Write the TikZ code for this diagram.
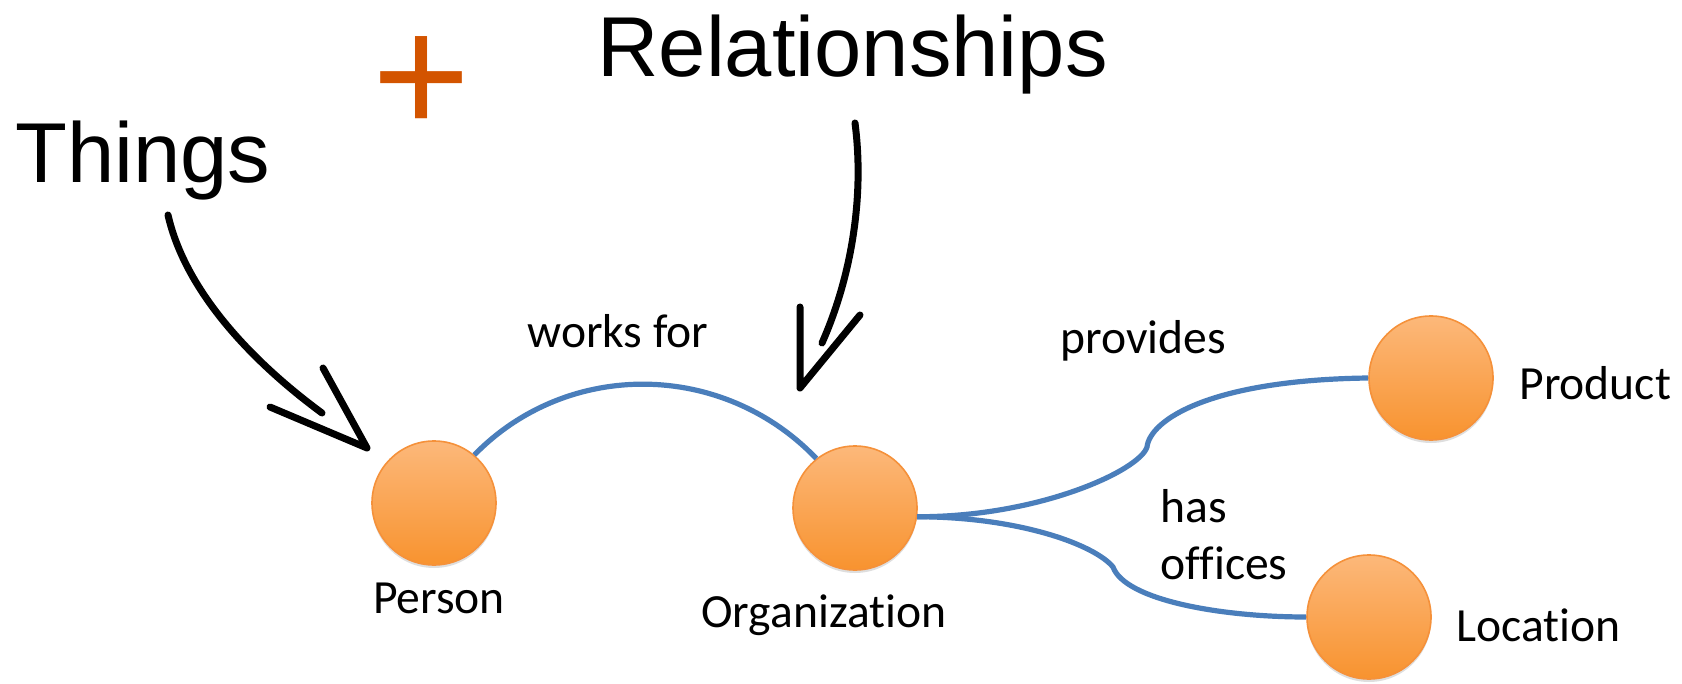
\documentclass[tikz,border=0pt]{standalone}
\usepackage{fontspec}
\setmainfont{Carlito}
\newfontfamily\noligfont[Ligatures=NoCommon]{Carlito}
\newfontfamily\titlefont{Liberation Sans}
\usetikzlibrary{shadows}
\definecolor{blueline}{HTML}{4A7EBB}
\definecolor{orangetop}{HTML}{FCB87A}
\definecolor{orangebot}{HTML}{F8932F}
\definecolor{orangeedge}{HTML}{F5913A}
\definecolor{plusred}{HTML}{D35400}
\tikzset{
  entity/.style={circle, minimum size=62pt, inner sep=0pt, draw=orangeedge, line width=0.8pt,
    top color=orangetop, bottom color=orangebot,
    drop shadow={shadow xshift=0pt, shadow yshift=-1.5pt, opacity=0.13, fill=black}},
  lbl/.style={inner sep=0pt, font=\noligfont\fontsize{23.8pt}{28pt}\selectfont},
  titletext/.style={inner sep=0pt, font=\titlefont\fontsize{42.5pt}{50pt}\selectfont},
  relline/.style={draw=blueline, line width=2.6pt},
  hand/.style={draw=black, line width=3.5pt, line cap=round, line join=round}
}
\begin{document}
\begin{tikzpicture}[x=0.5pt, y=-0.5pt]
\useasboundingbox (0,0) rectangle (1682,684);
% entities
\node[entity] (person) at (434,503) {};
\node[entity] (org) at (855,508) {};
\node[entity] (product) at (1431,378) {};
\node[entity] (location) at (1369,617) {};
% labels
\node[lbl, anchor=base] (personlbl) at (439,613) {Person};
\node[lbl, anchor=base] (orglbl) at (824,627) {Organization};
\node[lbl, anchor=base] (workslbl) at (618,348) {works for};
\node[lbl, anchor=base] (provlbl) at (1143,354) {provides};
\node[lbl, anchor=base west] (prodlbl) at (1519,400) {Product};
\node[lbl, anchor=base west] (haslbl) at (1160,522) {has};
\node[lbl, anchor=base west] (offlbl) at (1160,579) {offices};
\node[lbl, anchor=base west] (loclbl) at (1456,641) {Location};
% titles
\node[titletext, anchor=base west] (things) at (15,183) {Things};
\node[titletext, anchor=base west] (rels) at (597,77) {Relationships};
\node[inner sep=0pt, anchor=base, text=plusred, font=\titlefont\fontsize{84pt}{90pt}\selectfont] (plus) at (422,134) {+};
% relationship connectors
\coordinate (pbend) at (1147,447);
\coordinate (lbend) at (1113,567);
\draw[relline] (person.50) .. controls (568,359) and (723,361) .. (org.128);
\draw[relline] (org.-8) .. controls (1040,517) and (1140,470) .. (pbend)
  .. controls (1150,420) and (1210,380) .. (product.west);
\draw[relline] (org.-8) .. controls (1020,517) and (1095,545) .. (lbend)
  .. controls (1125,600) and (1220,617) .. (location.west);
% hand-drawn arrows
\coordinate (thingsstart) at (168,215);
\coordinate (thingsend) at (322,413);
\coordinate (thingstip) at (367,448);
\draw[hand] (thingsstart) .. controls (185,290) and (250,360) .. (thingsend);
\draw[hand] (270,407) -- (thingstip) -- (323,368);
\coordinate (relstart) at (855,123);
\coordinate (relend) at (822,343);
\coordinate (reltip) at (800,388);
\draw[hand] (relstart) .. controls (865,200) and (850,280) .. (relend);
\draw[hand] (800,307) -- (reltip) -- (860,315);
\end{tikzpicture}
\end{document}
